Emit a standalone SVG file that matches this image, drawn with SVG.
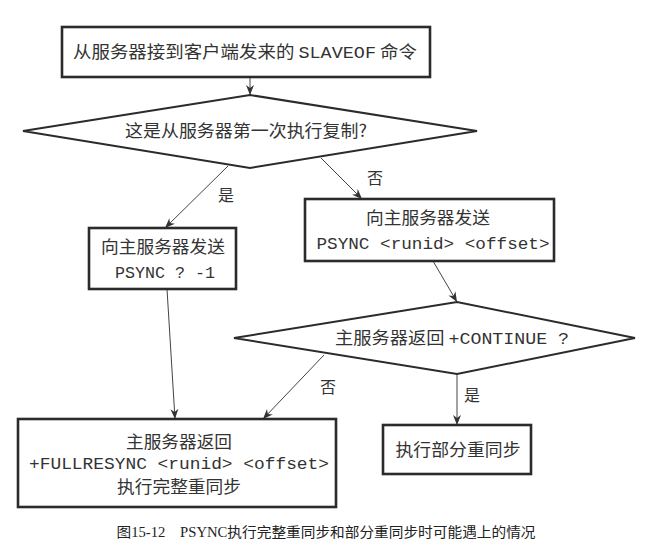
<svg xmlns="http://www.w3.org/2000/svg" width="651" height="551" viewBox="0 0 651 551">
  <style>
    .box { fill: #ffffff; stroke: #2b2b2b; stroke-width: 2.6; }
    .dia { fill: #ffffff; stroke: #2b2b2b; stroke-width: 2; stroke-linejoin: miter; }
    .t { font-family: "Noto Sans CJK SC", "Liberation Sans", sans-serif; font-size: 17px; fill: #333333; text-anchor: middle; }
    .m { font-family: "Liberation Mono", "DejaVu Sans Mono", monospace; }
    .lbl { font-family: "Noto Sans CJK SC", sans-serif; font-size: 16px; fill: #333333; text-anchor: middle; }
    .edge { stroke: #444444; stroke-width: 1; fill: none; marker-end: url(#arrow); }
    .cap { font-family: "Liberation Serif", "Noto Sans CJK SC", serif; font-size: 14px; fill: #222222; text-anchor: middle; }
  </style>
  <defs>
    <marker id="arrow" viewBox="0 0 10 10" refX="10" refY="5" markerWidth="10" markerHeight="10" markerUnits="userSpaceOnUse" orient="auto">
      <path d="M0,1 L10,5 L0,9 L3,5 Z" fill="#333333"/>
    </marker>
  </defs>

  <rect width="651" height="551" fill="#ffffff"/>

  <!-- connectors -->
  <g id="connectors">
    <line class="edge" x1="250" y1="77" x2="250" y2="95"/>
    <line class="edge" x1="228" y1="166" x2="165" y2="228"/>
    <line class="edge" x1="321" y1="158" x2="362" y2="199"/>
    <line class="edge" x1="433" y1="261" x2="457" y2="302"/>
    <line class="edge" x1="167" y1="289" x2="175" y2="419"/>
    <line class="edge" x1="324" y1="355" x2="263" y2="419"/>
    <line class="edge" x1="457" y1="374" x2="457" y2="425"/>
    <text class="lbl" x="226" y="201">是</text>
    <text class="lbl" x="375" y="184">否</text>
    <text class="lbl" x="328" y="393">否</text>
    <text class="lbl" x="472" y="401">是</text>
  </g>

  <!-- start: SLAVEOF received -->
  <g id="n-start">
    <rect class="box" x="62" y="27" width="368" height="50"/>
    <text class="t" x="245" y="58" textLength="344" lengthAdjust="spacingAndGlyphs">从服务器接到客户端发来的 <tspan class="m">SLAVEOF</tspan> 命令</text>
  </g>

  <!-- decision: first replication? -->
  <g id="n-first">
    <polygon class="dia" points="23,131 250,95 477,131 250,168"/>
    <text class="t" x="246" y="137" textLength="242" lengthAdjust="spacingAndGlyphs">这是从服务器第一次执行复制?</text>
  </g>

  <!-- PSYNC ? -1 -->
  <g id="n-psync-full">
    <rect class="box" x="89" y="228" width="147" height="61"/>
    <text class="t" x="163" y="253" textLength="124" lengthAdjust="spacingAndGlyphs">向主服务器发送</text>
    <text class="t m" x="165" y="278" textLength="100" lengthAdjust="spacingAndGlyphs">PSYNC ? -1</text>
  </g>

  <!-- PSYNC <runid> <offset> -->
  <g id="n-psync-partial">
    <rect class="box" x="305" y="199" width="249" height="62"/>
    <text class="t" x="428" y="224" textLength="124" lengthAdjust="spacingAndGlyphs">向主服务器发送</text>
    <text class="t m" x="433" y="249" textLength="233" lengthAdjust="spacingAndGlyphs">PSYNC &lt;runid&gt; &lt;offset&gt;</text>
  </g>

  <!-- decision: +CONTINUE? -->
  <g id="n-continue">
    <polygon class="dia" points="234,338 457,302 635,338 457,374"/>
    <text class="t" x="452" y="344" textLength="234" lengthAdjust="spacingAndGlyphs">主服务器返回 <tspan class="m">+CONTINUE ?</tspan></text>
  </g>

  <!-- full resync -->
  <g id="n-fullresync">
    <rect class="box" x="18" y="419" width="318" height="88"/>
    <text class="t" x="179" y="448" textLength="106" lengthAdjust="spacingAndGlyphs">主服务器返回</text>
    <text class="t m" x="179" y="469" textLength="300" lengthAdjust="spacingAndGlyphs">+FULLRESYNC &lt;runid&gt; &lt;offset&gt;</text>
    <text class="t" x="179" y="493" textLength="124" lengthAdjust="spacingAndGlyphs">执行完整重同步</text>
  </g>

  <!-- partial resync -->
  <g id="n-partial">
    <rect class="box" x="383" y="425" width="148" height="49"/>
    <text class="t" x="458" y="456" textLength="125" lengthAdjust="spacingAndGlyphs">执行部分重同步</text>
  </g>

  <!-- caption -->
  <text class="cap" x="326" y="537" textLength="419" lengthAdjust="spacingAndGlyphs">图15-12　PSYNC执行完整重同步和部分重同步时可能遇上的情况</text>
</svg>
